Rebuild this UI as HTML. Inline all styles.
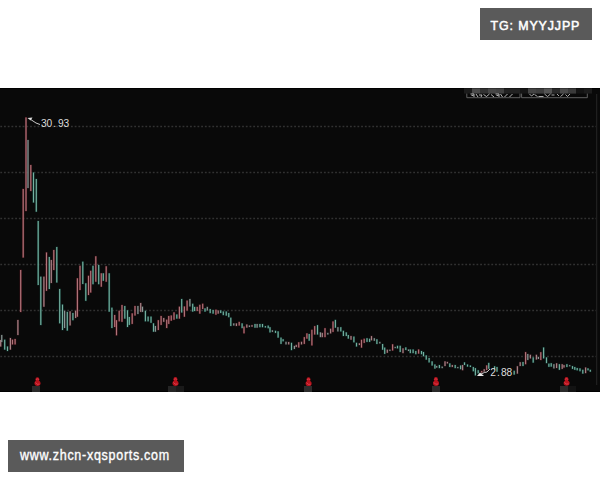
<!DOCTYPE html>
<html><head><meta charset="utf-8">
<style>
html,body{margin:0;padding:0;background:#fff;}
body{width:600px;height:480px;position:relative;overflow:hidden;font-family:"Liberation Sans",sans-serif;}
.tag{position:absolute;background:#5a5a5a;color:#fff;}
#tg{left:480px;top:8px;width:112px;height:32px;}
#tg span{position:absolute;left:10.5px;top:11px;font-size:12.4px;line-height:14px;white-space:nowrap;letter-spacing:0.9px;-webkit-text-stroke:0.5px #fff;}
#url{left:8px;top:440px;width:176px;height:32px;}
#url span{position:absolute;left:12px;top:6.6px;font-size:13.9px;line-height:16px;white-space:nowrap;letter-spacing:0.8px;-webkit-text-stroke:0.35px #fff;transform-origin:0 0;transform:scaleX(0.9);}
#chart{position:absolute;left:0;top:88px;width:600px;height:304px;background:#090909;}
</style></head><body>
<div class="tag" id="tg"><span>TG: MYYJJPP</span></div>
<svg id="chart" width="600" height="304" viewBox="0 0 600 304">
<rect x="0" y="0" width="600" height="1" fill="#000"/>
<rect x="0" y="303" width="600" height="1" fill="#000"/>
<line x1="0.3" y1="38.5" x2="596" y2="38.5" stroke="#323232" stroke-width="1.4" stroke-dasharray="1.8 1.92"/>
<line x1="0.3" y1="84.5" x2="596" y2="84.5" stroke="#323232" stroke-width="1.4" stroke-dasharray="1.8 1.92"/>
<line x1="0.3" y1="130.5" x2="596" y2="130.5" stroke="#323232" stroke-width="1.4" stroke-dasharray="1.8 1.92"/>
<line x1="0.3" y1="176.5" x2="596" y2="176.5" stroke="#323232" stroke-width="1.4" stroke-dasharray="1.8 1.92"/>
<line x1="0.3" y1="222.5" x2="596" y2="222.5" stroke="#323232" stroke-width="1.4" stroke-dasharray="1.8 1.92"/>
<line x1="0.3" y1="268.5" x2="596" y2="268.5" stroke="#323232" stroke-width="1.4" stroke-dasharray="1.8 1.92"/>
<g shape-rendering="auto">
<rect x="-0.40" y="251.60" width="2.2" height="7.30" fill="#5a2a30" opacity="0.6"/>
<rect x="0.65" y="246.60" width="2.2" height="7.80" fill="#343c3c" opacity="0.6"/>
<rect x="3.60" y="251.30" width="2.2" height="10.70" fill="#164e46" opacity="0.6"/>
<rect x="6.40" y="258.10" width="2.2" height="5.30" fill="#164e46" opacity="0.6"/>
<rect x="9.30" y="249.60" width="2.2" height="12.40" fill="#5a2a30" opacity="0.6"/>
<rect x="11.40" y="251.30" width="2.2" height="5.50" fill="#6a1c26" opacity="0.6"/>
<rect x="14.00" y="250.60" width="2.2" height="6.20" fill="#6a1c26" opacity="0.6"/>
<rect x="16.80" y="231.60" width="2.2" height="15.80" fill="#5a2a30" opacity="0.6"/>
<rect x="19.60" y="181.60" width="2.2" height="42.80" fill="#6a1c26" opacity="0.6"/>
<rect x="22.10" y="100.60" width="2.2" height="69.30" fill="#6a1c26" opacity="0.6"/>
<rect x="24.90" y="29.10" width="2.2" height="94.30" fill="#6a1c26" opacity="0.6"/>
<rect x="26.90" y="51.60" width="2.2" height="48.80" fill="#343c3c" opacity="0.6"/>
<rect x="29.70" y="76.60" width="2.2" height="26.80" fill="#6a1c26" opacity="0.6"/>
<rect x="32.40" y="84.10" width="2.2" height="30.80" fill="#164e46" opacity="0.6"/>
<rect x="35.20" y="90.60" width="2.2" height="33.50" fill="#164e46" opacity="0.6"/>
<rect x="37.10" y="132.60" width="2.2" height="64.80" fill="#164e46" opacity="0.6"/>
<rect x="39.70" y="188.30" width="2.2" height="49.10" fill="#164e46" opacity="0.6"/>
<rect x="42.80" y="188.30" width="2.2" height="30.80" fill="#5a2a30" opacity="0.6"/>
<rect x="45.40" y="164.10" width="2.2" height="39.10" fill="#6a1c26" opacity="0.6"/>
<rect x="48.20" y="168.60" width="2.2" height="32.80" fill="#164e46" opacity="0.6"/>
<rect x="50.20" y="171.60" width="2.2" height="23.80" fill="#5a2a30" opacity="0.6"/>
<rect x="52.70" y="161.60" width="2.2" height="20.80" fill="#6a1c26" opacity="0.6"/>
<rect x="55.70" y="158.60" width="2.2" height="36.30" fill="#164e46" opacity="0.6"/>
<rect x="58.60" y="200.60" width="2.2" height="35.10" fill="#164e46" opacity="0.6"/>
<rect x="61.40" y="216.20" width="2.2" height="26.20" fill="#164e46" opacity="0.6"/>
<rect x="63.50" y="222.40" width="2.2" height="18.00" fill="#343c3c" opacity="0.6"/>
<rect x="66.20" y="223.50" width="2.2" height="19.50" fill="#164e46" opacity="0.6"/>
<rect x="69.00" y="223.00" width="2.2" height="14.80" fill="#5a2a30" opacity="0.6"/>
<rect x="71.80" y="224.60" width="2.2" height="8.00" fill="#164e46" opacity="0.6"/>
<rect x="74.50" y="222.40" width="2.2" height="8.00" fill="#5a2a30" opacity="0.6"/>
<rect x="76.30" y="189.90" width="2.2" height="39.20" fill="#6a1c26" opacity="0.6"/>
<rect x="78.90" y="177.40" width="2.2" height="25.00" fill="#6a1c26" opacity="0.6"/>
<rect x="81.70" y="173.30" width="2.2" height="23.10" fill="#164e46" opacity="0.6"/>
<rect x="84.70" y="194.90" width="2.2" height="18.30" fill="#164e46" opacity="0.6"/>
<rect x="87.40" y="187.40" width="2.2" height="20.00" fill="#6a1c26" opacity="0.6"/>
<rect x="89.60" y="182.40" width="2.2" height="22.50" fill="#6a1c26" opacity="0.6"/>
<rect x="91.90" y="177.40" width="2.2" height="19.20" fill="#164e46" opacity="0.6"/>
<rect x="94.70" y="167.90" width="2.2" height="26.20" fill="#6a1c26" opacity="0.6"/>
<rect x="97.60" y="176.60" width="2.2" height="20.00" fill="#164e46" opacity="0.6"/>
<rect x="100.20" y="184.90" width="2.2" height="14.20" fill="#6a1c26" opacity="0.6"/>
<rect x="102.20" y="184.90" width="2.2" height="8.30" fill="#164e46" opacity="0.6"/>
<rect x="105.10" y="177.90" width="2.2" height="16.20" fill="#6a1c26" opacity="0.6"/>
<rect x="108.10" y="184.90" width="2.2" height="39.20" fill="#164e46" opacity="0.6"/>
<rect x="110.80" y="219.30" width="2.2" height="21.10" fill="#164e46" opacity="0.6"/>
<rect x="113.60" y="226.60" width="2.2" height="12.80" fill="#6a1c26" opacity="0.6"/>
<rect x="115.40" y="231.80" width="2.2" height="15.90" fill="#6a1c26" opacity="0.6"/>
<rect x="118.10" y="222.40" width="2.2" height="11.30" fill="#6a1c26" opacity="0.6"/>
<rect x="120.90" y="216.60" width="2.2" height="17.60" fill="#6a1c26" opacity="0.6"/>
<rect x="123.70" y="217.60" width="2.2" height="13.40" fill="#164e46" opacity="0.6"/>
<rect x="126.40" y="221.90" width="2.2" height="17.50" fill="#164e46" opacity="0.6"/>
<rect x="128.20" y="228.60" width="2.2" height="8.70" fill="#164e46" opacity="0.6"/>
<rect x="131.10" y="225.00" width="2.2" height="11.30" fill="#6a1c26" opacity="0.6"/>
<rect x="133.90" y="217.60" width="2.2" height="10.30" fill="#6a1c26" opacity="0.6"/>
<rect x="136.80" y="217.60" width="2.2" height="8.80" fill="#343c3c" opacity="0.6"/>
<rect x="139.60" y="214.60" width="2.2" height="9.70" fill="#5a2a30" opacity="0.6"/>
<rect x="141.40" y="218.30" width="2.2" height="6.00" fill="#343c3c" opacity="0.6"/>
<rect x="144.30" y="222.40" width="2.2" height="11.30" fill="#164e46" opacity="0.6"/>
<rect x="147.00" y="228.20" width="2.2" height="5.50" fill="#164e46" opacity="0.6"/>
<rect x="149.90" y="228.20" width="2.2" height="7.00" fill="#164e46" opacity="0.6"/>
<rect x="152.40" y="234.90" width="2.2" height="9.20" fill="#164e46" opacity="0.6"/>
<rect x="154.30" y="237.60" width="2.2" height="6.50" fill="#343c3c" opacity="0.6"/>
<rect x="157.20" y="231.80" width="2.2" height="10.60" fill="#6a1c26" opacity="0.6"/>
<rect x="160.00" y="227.60" width="2.2" height="9.70" fill="#6a1c26" opacity="0.6"/>
<rect x="162.65" y="229.60" width="2.2" height="4.60" fill="#5a2a30" opacity="0.6"/>
<rect x="165.60" y="231.30" width="2.2" height="9.10" fill="#6a1c26" opacity="0.6"/>
<rect x="167.65" y="227.60" width="2.2" height="8.70" fill="#6a1c26" opacity="0.6"/>
<rect x="170.15" y="227.10" width="2.2" height="6.00" fill="#6a1c26" opacity="0.6"/>
<rect x="172.90" y="224.00" width="2.2" height="8.10" fill="#6a1c26" opacity="0.6"/>
<rect x="175.70" y="226.10" width="2.2" height="4.90" fill="#164e46" opacity="0.6"/>
<rect x="178.30" y="218.30" width="2.2" height="12.70" fill="#6a1c26" opacity="0.6"/>
<rect x="180.60" y="210.60" width="2.2" height="14.30" fill="#164e46" opacity="0.6"/>
<rect x="183.30" y="218.10" width="2.2" height="11.00" fill="#6a1c26" opacity="0.6"/>
<rect x="186.00" y="212.20" width="2.2" height="10.70" fill="#6a1c26" opacity="0.6"/>
<rect x="188.80" y="210.60" width="2.2" height="8.20" fill="#343c3c" opacity="0.6"/>
<rect x="191.60" y="215.35" width="2.2" height="8.65" fill="#164e46" opacity="0.6"/>
<rect x="193.50" y="218.50" width="2.2" height="4.90" fill="#164e46" opacity="0.6"/>
<rect x="196.10" y="218.50" width="2.2" height="4.90" fill="#6a1c26" opacity="0.6"/>
<rect x="198.70" y="216.40" width="2.2" height="9.60" fill="#6a1c26" opacity="0.6"/>
<rect x="201.60" y="215.35" width="2.2" height="6.05" fill="#6a1c26" opacity="0.6"/>
<rect x="203.90" y="220.00" width="2.2" height="4.00" fill="#164e46" opacity="0.6"/>
<rect x="206.20" y="218.50" width="2.2" height="4.40" fill="#343c3c" opacity="0.6"/>
<rect x="209.10" y="220.60" width="2.2" height="4.90" fill="#164e46" opacity="0.6"/>
<rect x="212.00" y="221.60" width="2.2" height="4.40" fill="#164e46" opacity="0.6"/>
<rect x="214.80" y="221.30" width="2.2" height="5.80" fill="#6a1c26" opacity="0.6"/>
<rect x="217.10" y="222.10" width="2.2" height="3.90" fill="#5a2a30" opacity="0.6"/>
<rect x="219.60" y="222.00" width="2.2" height="3.40" fill="#164e46" opacity="0.6"/>
<rect x="222.20" y="223.10" width="2.2" height="4.40" fill="#164e46" opacity="0.6"/>
<rect x="225.15" y="223.10" width="2.2" height="4.90" fill="#164e46" opacity="0.6"/>
<rect x="227.65" y="224.60" width="2.2" height="5.00" fill="#164e46" opacity="0.6"/>
<rect x="229.70" y="229.30" width="2.2" height="9.10" fill="#164e46" opacity="0.6"/>
<rect x="232.65" y="235.00" width="2.2" height="2.90" fill="#343c3c" opacity="0.6"/>
<rect x="235.30" y="235.00" width="2.2" height="3.40" fill="#5a2a30" opacity="0.6"/>
<rect x="238.10" y="233.50" width="2.2" height="4.40" fill="#6a1c26" opacity="0.6"/>
<rect x="241.00" y="235.00" width="2.2" height="5.50" fill="#164e46" opacity="0.6"/>
<rect x="242.90" y="238.20" width="2.2" height="7.50" fill="#6a1c26" opacity="0.6"/>
<rect x="245.70" y="236.10" width="2.2" height="3.90" fill="#5a2a30" opacity="0.6"/>
<rect x="248.30" y="237.10" width="2.2" height="2.30" fill="#343c3c" opacity="0.6"/>
<rect x="250.90" y="236.70" width="2.2" height="2.40" fill="#5a2a30" opacity="0.6"/>
<rect x="253.90" y="235.60" width="2.2" height="4.50" fill="#164e46" opacity="0.6"/>
<rect x="256.00" y="235.60" width="2.2" height="4.50" fill="#343c3c" opacity="0.6"/>
<rect x="258.80" y="235.60" width="2.2" height="4.00" fill="#164e46" opacity="0.6"/>
<rect x="261.40" y="235.60" width="2.2" height="4.00" fill="#164e46" opacity="0.6"/>
<rect x="264.30" y="237.70" width="2.2" height="2.20" fill="#164e46" opacity="0.6"/>
<rect x="267.10" y="237.20" width="2.2" height="3.40" fill="#164e46" opacity="0.6"/>
<rect x="268.90" y="238.80" width="2.2" height="6.00" fill="#164e46" opacity="0.6"/>
<rect x="271.30" y="241.90" width="2.2" height="2.40" fill="#343c3c" opacity="0.6"/>
<rect x="274.40" y="242.40" width="2.2" height="2.90" fill="#164e46" opacity="0.6"/>
<rect x="277.00" y="243.00" width="2.2" height="7.00" fill="#164e46" opacity="0.6"/>
<rect x="279.90" y="249.20" width="2.2" height="7.10" fill="#164e46" opacity="0.6"/>
<rect x="282.00" y="250.80" width="2.2" height="2.85" fill="#164e46" opacity="0.6"/>
<rect x="284.90" y="253.40" width="2.2" height="3.40" fill="#343c3c" opacity="0.6"/>
<rect x="287.60" y="253.60" width="2.2" height="3.20" fill="#5a2a30" opacity="0.6"/>
<rect x="290.40" y="254.40" width="2.2" height="8.10" fill="#164e46" opacity="0.6"/>
<rect x="293.30" y="257.50" width="2.2" height="3.90" fill="#343c3c" opacity="0.6"/>
<rect x="295.15" y="256.50" width="2.2" height="2.90" fill="#5a2a30" opacity="0.6"/>
<rect x="297.65" y="253.90" width="2.2" height="6.00" fill="#6a1c26" opacity="0.6"/>
<rect x="300.40" y="253.40" width="2.2" height="3.40" fill="#5a2a30" opacity="0.6"/>
<rect x="303.20" y="248.70" width="2.2" height="7.60" fill="#6a1c26" opacity="0.6"/>
<rect x="305.80" y="245.00" width="2.2" height="6.00" fill="#6a1c26" opacity="0.6"/>
<rect x="308.10" y="245.60" width="2.2" height="7.50" fill="#164e46" opacity="0.6"/>
<rect x="310.80" y="241.40" width="2.2" height="16.40" fill="#6a1c26" opacity="0.6"/>
<rect x="313.60" y="237.70" width="2.2" height="9.20" fill="#6a1c26" opacity="0.6"/>
<rect x="316.40" y="236.70" width="2.2" height="10.20" fill="#164e46" opacity="0.6"/>
<rect x="319.30" y="244.00" width="2.2" height="5.50" fill="#343c3c" opacity="0.6"/>
<rect x="321.20" y="244.50" width="2.2" height="5.00" fill="#5a2a30" opacity="0.6"/>
<rect x="323.90" y="239.80" width="2.2" height="9.70" fill="#6a1c26" opacity="0.6"/>
<rect x="326.70" y="244.50" width="2.2" height="2.40" fill="#343c3c" opacity="0.6"/>
<rect x="329.50" y="240.35" width="2.2" height="5.45" fill="#5a2a30" opacity="0.6"/>
<rect x="331.90" y="233.10" width="2.2" height="11.20" fill="#6a1c26" opacity="0.6"/>
<rect x="334.30" y="231.50" width="2.2" height="8.60" fill="#164e46" opacity="0.6"/>
<rect x="336.80" y="238.80" width="2.2" height="5.00" fill="#343c3c" opacity="0.6"/>
<rect x="339.70" y="238.80" width="2.2" height="5.00" fill="#164e46" opacity="0.6"/>
<rect x="342.30" y="242.40" width="2.2" height="6.00" fill="#164e46" opacity="0.6"/>
<rect x="345.15" y="244.00" width="2.2" height="4.40" fill="#164e46" opacity="0.6"/>
<rect x="347.20" y="246.60" width="2.2" height="4.40" fill="#164e46" opacity="0.6"/>
<rect x="349.90" y="247.60" width="2.2" height="4.50" fill="#5a2a30" opacity="0.6"/>
<rect x="352.80" y="248.20" width="2.2" height="6.50" fill="#164e46" opacity="0.6"/>
<rect x="355.40" y="254.40" width="2.2" height="4.50" fill="#164e46" opacity="0.6"/>
<rect x="358.30" y="254.90" width="2.2" height="2.50" fill="#5a2a30" opacity="0.6"/>
<rect x="360.40" y="251.40" width="2.2" height="8.60" fill="#6a1c26" opacity="0.6"/>
<rect x="363.10" y="250.35" width="2.2" height="4.95" fill="#6a1c26" opacity="0.6"/>
<rect x="365.90" y="249.80" width="2.2" height="4.50" fill="#164e46" opacity="0.6"/>
<rect x="368.50" y="250.35" width="2.2" height="3.95" fill="#164e46" opacity="0.6"/>
<rect x="370.40" y="247.70" width="2.2" height="5.00" fill="#5a2a30" opacity="0.6"/>
<rect x="373.20" y="249.80" width="2.2" height="3.40" fill="#343c3c" opacity="0.6"/>
<rect x="375.80" y="250.90" width="2.2" height="5.50" fill="#164e46" opacity="0.6"/>
<rect x="378.70" y="253.50" width="2.2" height="2.30" fill="#343c3c" opacity="0.6"/>
<rect x="381.50" y="255.60" width="2.2" height="6.50" fill="#164e46" opacity="0.6"/>
<rect x="383.60" y="259.20" width="2.2" height="7.10" fill="#164e46" opacity="0.6"/>
<rect x="386.20" y="261.30" width="2.2" height="3.90" fill="#5a2a30" opacity="0.6"/>
<rect x="388.80" y="261.30" width="2.2" height="2.00" fill="#343c3c" opacity="0.6"/>
<rect x="391.50" y="255.90" width="2.2" height="7.00" fill="#6a1c26" opacity="0.6"/>
<rect x="394.10" y="258.50" width="2.2" height="2.00" fill="#343c3c" opacity="0.6"/>
<rect x="396.40" y="257.40" width="2.2" height="3.40" fill="#164e46" opacity="0.6"/>
<rect x="399.10" y="257.40" width="2.2" height="7.00" fill="#164e46" opacity="0.6"/>
<rect x="401.90" y="260.00" width="2.2" height="5.50" fill="#5a2a30" opacity="0.6"/>
<rect x="404.70" y="259.00" width="2.2" height="3.40" fill="#164e46" opacity="0.6"/>
<rect x="407.40" y="261.10" width="2.2" height="2.30" fill="#343c3c" opacity="0.6"/>
<rect x="409.20" y="261.10" width="2.2" height="4.40" fill="#164e46" opacity="0.6"/>
<rect x="412.00" y="261.10" width="2.2" height="4.40" fill="#164e46" opacity="0.6"/>
<rect x="414.70" y="262.60" width="2.2" height="4.00" fill="#164e46" opacity="0.6"/>
<rect x="417.50" y="261.10" width="2.2" height="4.90" fill="#6a1c26" opacity="0.6"/>
<rect x="420.40" y="262.60" width="2.2" height="4.00" fill="#164e46" opacity="0.6"/>
<rect x="422.40" y="263.60" width="2.2" height="5.05" fill="#164e46" opacity="0.6"/>
<rect x="425.15" y="267.00" width="2.2" height="5.00" fill="#164e46" opacity="0.6"/>
<rect x="428.00" y="269.60" width="2.2" height="5.20" fill="#164e46" opacity="0.6"/>
<rect x="431.00" y="273.00" width="2.2" height="4.90" fill="#164e46" opacity="0.6"/>
<rect x="433.80" y="276.10" width="2.2" height="4.90" fill="#164e46" opacity="0.6"/>
<rect x="435.60" y="277.60" width="2.2" height="2.40" fill="#343c3c" opacity="0.6"/>
<rect x="438.30" y="276.60" width="2.2" height="3.90" fill="#164e46" opacity="0.6"/>
<rect x="441.10" y="278.20" width="2.2" height="2.30" fill="#343c3c" opacity="0.6"/>
<rect x="443.90" y="273.00" width="2.2" height="5.40" fill="#5a2a30" opacity="0.6"/>
<rect x="446.30" y="273.50" width="2.2" height="2.30" fill="#5a2a30" opacity="0.6"/>
<rect x="448.70" y="275.00" width="2.2" height="4.40" fill="#164e46" opacity="0.6"/>
<rect x="451.20" y="276.60" width="2.2" height="2.80" fill="#5a2a30" opacity="0.6"/>
<rect x="454.10" y="276.60" width="2.2" height="3.90" fill="#164e46" opacity="0.6"/>
<rect x="456.70" y="278.60" width="2.2" height="2.00" fill="#343c3c" opacity="0.6"/>
<rect x="459.50" y="277.10" width="2.2" height="4.50" fill="#164e46" opacity="0.6"/>
<rect x="461.50" y="276.60" width="2.2" height="6.00" fill="#5a2a30" opacity="0.6"/>
<rect x="463.40" y="274.00" width="2.2" height="3.40" fill="#164e46" opacity="0.6"/>
<rect x="466.40" y="276.10" width="2.2" height="2.90" fill="#164e46" opacity="0.6"/>
<rect x="469.30" y="277.10" width="2.2" height="2.30" fill="#164e46" opacity="0.6"/>
<rect x="472.20" y="278.60" width="2.2" height="5.05" fill="#164e46" opacity="0.6"/>
<rect x="474.30" y="279.70" width="2.2" height="8.10" fill="#164e46" opacity="0.6"/>
<rect x="477.10" y="281.80" width="2.2" height="3.90" fill="#164e46" opacity="0.6"/>
<rect x="480.60" y="282.60" width="2.2" height="2.30" fill="#6a1c26" opacity="0.6"/>
<rect x="483.10" y="280.80" width="2.2" height="3.30" fill="#5a2a30" opacity="0.6"/>
<rect x="485.60" y="277.00" width="2.2" height="5.40" fill="#6a1c26" opacity="0.6"/>
<rect x="487.65" y="274.50" width="2.2" height="6.65" fill="#164e46" opacity="0.6"/>
<rect x="493.50" y="277.85" width="2.2" height="3.75" fill="#164e46" opacity="0.6"/>
<rect x="495.90" y="278.60" width="2.2" height="5.50" fill="#164e46" opacity="0.6"/>
<rect x="513.10" y="282.40" width="2.2" height="4.60" fill="#164e46" opacity="0.6"/>
<rect x="516.30" y="277.85" width="2.2" height="8.15" fill="#5a2a30" opacity="0.6"/>
<rect x="519.10" y="273.80" width="2.2" height="4.60" fill="#5a2a30" opacity="0.6"/>
<rect x="521.90" y="273.60" width="2.2" height="4.80" fill="#164e46" opacity="0.6"/>
<rect x="524.50" y="263.70" width="2.2" height="12.90" fill="#6a1c26" opacity="0.6"/>
<rect x="526.70" y="265.60" width="2.2" height="6.80" fill="#343c3c" opacity="0.6"/>
<rect x="529.30" y="266.40" width="2.2" height="4.40" fill="#5a2a30" opacity="0.6"/>
<rect x="532.10" y="269.00" width="2.2" height="6.00" fill="#164e46" opacity="0.6"/>
<rect x="535.30" y="266.40" width="2.2" height="5.50" fill="#5a2a30" opacity="0.6"/>
<rect x="537.30" y="268.50" width="2.2" height="2.90" fill="#343c3c" opacity="0.6"/>
<rect x="539.70" y="263.80" width="2.2" height="8.60" fill="#6a1c26" opacity="0.6"/>
<rect x="542.50" y="259.10" width="2.2" height="11.70" fill="#164e46" opacity="0.6"/>
<rect x="545.40" y="269.00" width="2.2" height="6.50" fill="#164e46" opacity="0.6"/>
<rect x="547.80" y="275.20" width="2.2" height="4.00" fill="#164e46" opacity="0.6"/>
<rect x="550.10" y="274.80" width="2.2" height="4.20" fill="#164e46" opacity="0.6"/>
<rect x="552.80" y="275.80" width="2.2" height="5.00" fill="#343c3c" opacity="0.6"/>
<rect x="555.50" y="274.90" width="2.2" height="5.50" fill="#5a2a30" opacity="0.6"/>
<rect x="558.30" y="275.80" width="2.2" height="6.40" fill="#164e46" opacity="0.6"/>
<rect x="561.10" y="275.80" width="2.2" height="5.50" fill="#5a2a30" opacity="0.6"/>
<rect x="562.90" y="276.70" width="2.2" height="3.20" fill="#5a2a30" opacity="0.6"/>
<rect x="565.80" y="275.80" width="2.2" height="3.60" fill="#164e46" opacity="0.6"/>
<rect x="568.60" y="276.70" width="2.2" height="2.00" fill="#343c3c" opacity="0.6"/>
<rect x="571.40" y="277.70" width="2.2" height="3.60" fill="#164e46" opacity="0.6"/>
<rect x="573.70" y="278.60" width="2.2" height="3.60" fill="#164e46" opacity="0.6"/>
<rect x="576.10" y="279.60" width="2.2" height="3.10" fill="#164e46" opacity="0.6"/>
<rect x="578.90" y="280.00" width="2.2" height="3.60" fill="#164e46" opacity="0.6"/>
<rect x="581.70" y="281.40" width="2.2" height="4.60" fill="#164e46" opacity="0.6"/>
<rect x="584.50" y="279.10" width="2.2" height="6.40" fill="#5a2a30" opacity="0.6"/>
<rect x="586.90" y="280.00" width="2.2" height="2.70" fill="#164e46" opacity="0.6"/>
<rect x="589.20" y="281.40" width="2.2" height="2.70" fill="#164e46" opacity="0.6"/>
<rect x="0.12" y="252.00" width="1.15" height="6.50" fill="#a88488"/>
<rect x="1.18" y="247.00" width="1.15" height="7.00" fill="#8c9896"/>
<rect x="4.12" y="251.70" width="1.15" height="9.90" fill="#74b0a0"/>
<rect x="6.92" y="258.50" width="1.15" height="4.50" fill="#74b0a0"/>
<rect x="9.83" y="250.00" width="1.15" height="11.60" fill="#a88488"/>
<rect x="11.93" y="251.70" width="1.15" height="4.70" fill="#b0747a"/>
<rect x="14.53" y="251.00" width="1.15" height="5.40" fill="#b0747a"/>
<rect x="17.32" y="232.00" width="1.15" height="15.00" fill="#a88488"/>
<rect x="20.12" y="182.00" width="1.15" height="42.00" fill="#b0747a"/>
<rect x="22.62" y="101.00" width="1.15" height="68.50" fill="#b0747a"/>
<rect x="25.43" y="29.50" width="1.15" height="93.50" fill="#b0747a"/>
<rect x="27.43" y="52.00" width="1.15" height="48.00" fill="#8c9896"/>
<rect x="30.23" y="77.00" width="1.15" height="26.00" fill="#b0747a"/>
<rect x="32.92" y="84.50" width="1.15" height="30.00" fill="#74b0a0"/>
<rect x="35.72" y="91.00" width="1.15" height="32.70" fill="#74b0a0"/>
<rect x="37.62" y="133.00" width="1.15" height="64.00" fill="#74b0a0"/>
<rect x="40.22" y="188.70" width="1.15" height="48.30" fill="#74b0a0"/>
<rect x="43.32" y="188.70" width="1.15" height="30.00" fill="#a88488"/>
<rect x="45.92" y="164.50" width="1.15" height="38.30" fill="#b0747a"/>
<rect x="48.72" y="169.00" width="1.15" height="32.00" fill="#74b0a0"/>
<rect x="50.72" y="172.00" width="1.15" height="23.00" fill="#a88488"/>
<rect x="53.22" y="162.00" width="1.15" height="20.00" fill="#b0747a"/>
<rect x="56.22" y="159.00" width="1.15" height="35.50" fill="#74b0a0"/>
<rect x="59.12" y="201.00" width="1.15" height="34.30" fill="#74b0a0"/>
<rect x="61.92" y="216.60" width="1.15" height="25.40" fill="#74b0a0"/>
<rect x="64.02" y="222.80" width="1.15" height="17.20" fill="#8c9896"/>
<rect x="66.72" y="223.90" width="1.15" height="18.70" fill="#74b0a0"/>
<rect x="69.52" y="223.40" width="1.15" height="14.00" fill="#a88488"/>
<rect x="72.33" y="225.00" width="1.15" height="7.20" fill="#74b0a0"/>
<rect x="75.02" y="222.80" width="1.15" height="7.20" fill="#a88488"/>
<rect x="76.83" y="190.30" width="1.15" height="38.40" fill="#b0747a"/>
<rect x="79.42" y="177.80" width="1.15" height="24.20" fill="#b0747a"/>
<rect x="82.22" y="173.70" width="1.15" height="22.30" fill="#74b0a0"/>
<rect x="85.22" y="195.30" width="1.15" height="17.50" fill="#74b0a0"/>
<rect x="87.92" y="187.80" width="1.15" height="19.20" fill="#b0747a"/>
<rect x="90.12" y="182.80" width="1.15" height="21.70" fill="#b0747a"/>
<rect x="92.42" y="177.80" width="1.15" height="18.40" fill="#74b0a0"/>
<rect x="95.22" y="168.30" width="1.15" height="25.40" fill="#b0747a"/>
<rect x="98.12" y="177.00" width="1.15" height="19.20" fill="#74b0a0"/>
<rect x="100.72" y="185.30" width="1.15" height="13.40" fill="#b0747a"/>
<rect x="102.72" y="185.30" width="1.15" height="7.50" fill="#74b0a0"/>
<rect x="105.62" y="178.30" width="1.15" height="15.40" fill="#b0747a"/>
<rect x="108.62" y="185.30" width="1.15" height="38.40" fill="#74b0a0"/>
<rect x="111.33" y="219.70" width="1.15" height="20.30" fill="#74b0a0"/>
<rect x="114.12" y="227.00" width="1.15" height="12.00" fill="#b0747a"/>
<rect x="115.92" y="232.20" width="1.15" height="15.10" fill="#b0747a"/>
<rect x="118.62" y="222.80" width="1.15" height="10.50" fill="#b0747a"/>
<rect x="121.42" y="217.00" width="1.15" height="16.80" fill="#b0747a"/>
<rect x="124.22" y="218.00" width="1.15" height="12.60" fill="#74b0a0"/>
<rect x="126.92" y="222.30" width="1.15" height="16.70" fill="#74b0a0"/>
<rect x="128.73" y="229.00" width="1.15" height="7.90" fill="#74b0a0"/>
<rect x="131.62" y="225.40" width="1.15" height="10.50" fill="#b0747a"/>
<rect x="134.43" y="218.00" width="1.15" height="9.50" fill="#b0747a"/>
<rect x="137.33" y="218.00" width="1.15" height="8.00" fill="#8c9896"/>
<rect x="140.12" y="215.00" width="1.15" height="8.90" fill="#a88488"/>
<rect x="141.93" y="218.70" width="1.15" height="5.20" fill="#8c9896"/>
<rect x="144.83" y="222.80" width="1.15" height="10.50" fill="#74b0a0"/>
<rect x="147.53" y="228.60" width="1.15" height="4.70" fill="#74b0a0"/>
<rect x="150.43" y="228.60" width="1.15" height="6.20" fill="#74b0a0"/>
<rect x="152.93" y="235.30" width="1.15" height="8.40" fill="#74b0a0"/>
<rect x="154.83" y="238.00" width="1.15" height="5.70" fill="#8c9896"/>
<rect x="157.73" y="232.20" width="1.15" height="9.80" fill="#b0747a"/>
<rect x="160.53" y="228.00" width="1.15" height="8.90" fill="#b0747a"/>
<rect x="163.18" y="230.00" width="1.15" height="3.80" fill="#a88488"/>
<rect x="166.12" y="231.70" width="1.15" height="8.30" fill="#b0747a"/>
<rect x="168.18" y="228.00" width="1.15" height="7.90" fill="#b0747a"/>
<rect x="170.68" y="227.50" width="1.15" height="5.20" fill="#b0747a"/>
<rect x="173.43" y="224.40" width="1.15" height="7.30" fill="#b0747a"/>
<rect x="176.23" y="226.50" width="1.15" height="4.10" fill="#74b0a0"/>
<rect x="178.83" y="218.70" width="1.15" height="11.90" fill="#b0747a"/>
<rect x="181.12" y="211.00" width="1.15" height="13.50" fill="#74b0a0"/>
<rect x="183.83" y="218.50" width="1.15" height="10.20" fill="#b0747a"/>
<rect x="186.53" y="212.60" width="1.15" height="9.90" fill="#b0747a"/>
<rect x="189.33" y="211.00" width="1.15" height="7.40" fill="#8c9896"/>
<rect x="192.12" y="215.75" width="1.15" height="7.85" fill="#74b0a0"/>
<rect x="194.03" y="218.90" width="1.15" height="4.10" fill="#74b0a0"/>
<rect x="196.62" y="218.90" width="1.15" height="4.10" fill="#b0747a"/>
<rect x="199.23" y="216.80" width="1.15" height="8.80" fill="#b0747a"/>
<rect x="202.12" y="215.75" width="1.15" height="5.25" fill="#b0747a"/>
<rect x="204.43" y="220.40" width="1.15" height="3.20" fill="#74b0a0"/>
<rect x="206.73" y="218.90" width="1.15" height="3.60" fill="#8c9896"/>
<rect x="209.62" y="221.00" width="1.15" height="4.10" fill="#74b0a0"/>
<rect x="212.53" y="222.00" width="1.15" height="3.60" fill="#74b0a0"/>
<rect x="215.33" y="221.70" width="1.15" height="5.00" fill="#b0747a"/>
<rect x="217.62" y="222.50" width="1.15" height="3.10" fill="#a88488"/>
<rect x="220.12" y="222.40" width="1.15" height="2.60" fill="#74b0a0"/>
<rect x="222.73" y="223.50" width="1.15" height="3.60" fill="#74b0a0"/>
<rect x="225.68" y="223.50" width="1.15" height="4.10" fill="#74b0a0"/>
<rect x="228.18" y="225.00" width="1.15" height="4.20" fill="#74b0a0"/>
<rect x="230.23" y="229.70" width="1.15" height="8.30" fill="#74b0a0"/>
<rect x="233.18" y="235.40" width="1.15" height="2.10" fill="#8c9896"/>
<rect x="235.83" y="235.40" width="1.15" height="2.60" fill="#a88488"/>
<rect x="238.62" y="233.90" width="1.15" height="3.60" fill="#b0747a"/>
<rect x="241.53" y="235.40" width="1.15" height="4.70" fill="#74b0a0"/>
<rect x="243.43" y="238.60" width="1.15" height="6.70" fill="#b0747a"/>
<rect x="246.23" y="236.50" width="1.15" height="3.10" fill="#a88488"/>
<rect x="248.83" y="237.50" width="1.15" height="1.50" fill="#8c9896"/>
<rect x="251.43" y="237.10" width="1.15" height="1.60" fill="#a88488"/>
<rect x="254.43" y="236.00" width="1.15" height="3.70" fill="#74b0a0"/>
<rect x="256.53" y="236.00" width="1.15" height="3.70" fill="#8c9896"/>
<rect x="259.32" y="236.00" width="1.15" height="3.20" fill="#74b0a0"/>
<rect x="261.93" y="236.00" width="1.15" height="3.20" fill="#74b0a0"/>
<rect x="264.82" y="238.10" width="1.15" height="1.40" fill="#74b0a0"/>
<rect x="267.62" y="237.60" width="1.15" height="2.60" fill="#74b0a0"/>
<rect x="269.43" y="239.20" width="1.15" height="5.20" fill="#74b0a0"/>
<rect x="271.82" y="242.30" width="1.15" height="1.60" fill="#8c9896"/>
<rect x="274.93" y="242.80" width="1.15" height="2.10" fill="#74b0a0"/>
<rect x="277.53" y="243.40" width="1.15" height="6.20" fill="#74b0a0"/>
<rect x="280.43" y="249.60" width="1.15" height="6.30" fill="#74b0a0"/>
<rect x="282.53" y="251.20" width="1.15" height="2.05" fill="#74b0a0"/>
<rect x="285.43" y="253.80" width="1.15" height="2.60" fill="#8c9896"/>
<rect x="288.12" y="254.00" width="1.15" height="2.40" fill="#a88488"/>
<rect x="290.93" y="254.80" width="1.15" height="7.30" fill="#74b0a0"/>
<rect x="293.82" y="257.90" width="1.15" height="3.10" fill="#8c9896"/>
<rect x="295.68" y="256.90" width="1.15" height="2.10" fill="#a88488"/>
<rect x="298.18" y="254.30" width="1.15" height="5.20" fill="#b0747a"/>
<rect x="300.93" y="253.80" width="1.15" height="2.60" fill="#a88488"/>
<rect x="303.73" y="249.10" width="1.15" height="6.80" fill="#b0747a"/>
<rect x="306.32" y="245.40" width="1.15" height="5.20" fill="#b0747a"/>
<rect x="308.62" y="246.00" width="1.15" height="6.70" fill="#74b0a0"/>
<rect x="311.32" y="241.80" width="1.15" height="15.60" fill="#b0747a"/>
<rect x="314.12" y="238.10" width="1.15" height="8.40" fill="#b0747a"/>
<rect x="316.93" y="237.10" width="1.15" height="9.40" fill="#74b0a0"/>
<rect x="319.82" y="244.40" width="1.15" height="4.70" fill="#8c9896"/>
<rect x="321.73" y="244.90" width="1.15" height="4.20" fill="#a88488"/>
<rect x="324.43" y="240.20" width="1.15" height="8.90" fill="#b0747a"/>
<rect x="327.23" y="244.90" width="1.15" height="1.60" fill="#8c9896"/>
<rect x="330.03" y="240.75" width="1.15" height="4.65" fill="#a88488"/>
<rect x="332.43" y="233.50" width="1.15" height="10.40" fill="#b0747a"/>
<rect x="334.82" y="231.90" width="1.15" height="7.80" fill="#74b0a0"/>
<rect x="337.32" y="239.20" width="1.15" height="4.20" fill="#8c9896"/>
<rect x="340.23" y="239.20" width="1.15" height="4.20" fill="#74b0a0"/>
<rect x="342.82" y="242.80" width="1.15" height="5.20" fill="#74b0a0"/>
<rect x="345.68" y="244.40" width="1.15" height="3.60" fill="#74b0a0"/>
<rect x="347.73" y="247.00" width="1.15" height="3.60" fill="#74b0a0"/>
<rect x="350.43" y="248.00" width="1.15" height="3.70" fill="#a88488"/>
<rect x="353.32" y="248.60" width="1.15" height="5.70" fill="#74b0a0"/>
<rect x="355.93" y="254.80" width="1.15" height="3.70" fill="#74b0a0"/>
<rect x="358.82" y="255.30" width="1.15" height="1.70" fill="#a88488"/>
<rect x="360.93" y="251.80" width="1.15" height="7.80" fill="#b0747a"/>
<rect x="363.62" y="250.75" width="1.15" height="4.15" fill="#b0747a"/>
<rect x="366.43" y="250.20" width="1.15" height="3.70" fill="#74b0a0"/>
<rect x="369.03" y="250.75" width="1.15" height="3.15" fill="#74b0a0"/>
<rect x="370.93" y="248.10" width="1.15" height="4.20" fill="#a88488"/>
<rect x="373.73" y="250.20" width="1.15" height="2.60" fill="#8c9896"/>
<rect x="376.32" y="251.30" width="1.15" height="4.70" fill="#74b0a0"/>
<rect x="379.23" y="253.90" width="1.15" height="1.50" fill="#8c9896"/>
<rect x="382.03" y="256.00" width="1.15" height="5.70" fill="#74b0a0"/>
<rect x="384.12" y="259.60" width="1.15" height="6.30" fill="#74b0a0"/>
<rect x="386.73" y="261.70" width="1.15" height="3.10" fill="#a88488"/>
<rect x="389.32" y="261.70" width="1.15" height="1.20" fill="#8c9896"/>
<rect x="392.03" y="256.30" width="1.15" height="6.20" fill="#b0747a"/>
<rect x="394.62" y="258.90" width="1.15" height="1.20" fill="#8c9896"/>
<rect x="396.93" y="257.80" width="1.15" height="2.60" fill="#74b0a0"/>
<rect x="399.62" y="257.80" width="1.15" height="6.20" fill="#74b0a0"/>
<rect x="402.43" y="260.40" width="1.15" height="4.70" fill="#a88488"/>
<rect x="405.23" y="259.40" width="1.15" height="2.60" fill="#74b0a0"/>
<rect x="407.93" y="261.50" width="1.15" height="1.50" fill="#8c9896"/>
<rect x="409.73" y="261.50" width="1.15" height="3.60" fill="#74b0a0"/>
<rect x="412.53" y="261.50" width="1.15" height="3.60" fill="#74b0a0"/>
<rect x="415.23" y="263.00" width="1.15" height="3.20" fill="#74b0a0"/>
<rect x="418.03" y="261.50" width="1.15" height="4.10" fill="#b0747a"/>
<rect x="420.93" y="263.00" width="1.15" height="3.20" fill="#74b0a0"/>
<rect x="422.93" y="264.00" width="1.15" height="4.25" fill="#74b0a0"/>
<rect x="425.68" y="267.40" width="1.15" height="4.20" fill="#74b0a0"/>
<rect x="428.53" y="270.00" width="1.15" height="4.40" fill="#74b0a0"/>
<rect x="431.53" y="273.40" width="1.15" height="4.10" fill="#74b0a0"/>
<rect x="434.32" y="276.50" width="1.15" height="4.10" fill="#74b0a0"/>
<rect x="436.12" y="278.00" width="1.15" height="1.60" fill="#8c9896"/>
<rect x="438.82" y="277.00" width="1.15" height="3.10" fill="#74b0a0"/>
<rect x="441.62" y="278.60" width="1.15" height="1.50" fill="#8c9896"/>
<rect x="444.43" y="273.40" width="1.15" height="4.60" fill="#a88488"/>
<rect x="446.82" y="273.90" width="1.15" height="1.50" fill="#a88488"/>
<rect x="449.23" y="275.40" width="1.15" height="3.60" fill="#74b0a0"/>
<rect x="451.73" y="277.00" width="1.15" height="2.00" fill="#a88488"/>
<rect x="454.62" y="277.00" width="1.15" height="3.10" fill="#74b0a0"/>
<rect x="457.23" y="279.00" width="1.15" height="1.20" fill="#8c9896"/>
<rect x="460.03" y="277.50" width="1.15" height="3.70" fill="#74b0a0"/>
<rect x="462.03" y="277.00" width="1.15" height="5.20" fill="#a88488"/>
<rect x="463.93" y="274.40" width="1.15" height="2.60" fill="#74b0a0"/>
<rect x="466.93" y="276.50" width="1.15" height="2.10" fill="#74b0a0"/>
<rect x="469.82" y="277.50" width="1.15" height="1.50" fill="#74b0a0"/>
<rect x="472.73" y="279.00" width="1.15" height="4.25" fill="#74b0a0"/>
<rect x="474.82" y="280.10" width="1.15" height="7.30" fill="#74b0a0"/>
<rect x="477.62" y="282.20" width="1.15" height="3.10" fill="#74b0a0"/>
<rect x="481.12" y="283.00" width="1.15" height="1.50" fill="#b0747a"/>
<rect x="483.62" y="281.20" width="1.15" height="2.50" fill="#a88488"/>
<rect x="486.12" y="277.40" width="1.15" height="4.60" fill="#b0747a"/>
<rect x="488.18" y="274.90" width="1.15" height="5.85" fill="#74b0a0"/>
<rect x="494.03" y="278.25" width="1.15" height="2.95" fill="#74b0a0"/>
<rect x="496.43" y="279.00" width="1.15" height="4.70" fill="#74b0a0"/>
<rect x="513.62" y="282.80" width="1.15" height="3.80" fill="#74b0a0"/>
<rect x="516.82" y="278.25" width="1.15" height="7.35" fill="#a88488"/>
<rect x="519.62" y="274.20" width="1.15" height="3.80" fill="#a88488"/>
<rect x="522.42" y="274.00" width="1.15" height="4.00" fill="#74b0a0"/>
<rect x="525.02" y="264.10" width="1.15" height="12.10" fill="#b0747a"/>
<rect x="527.22" y="266.00" width="1.15" height="6.00" fill="#8c9896"/>
<rect x="529.82" y="266.80" width="1.15" height="3.60" fill="#a88488"/>
<rect x="532.62" y="269.40" width="1.15" height="5.20" fill="#74b0a0"/>
<rect x="535.82" y="266.80" width="1.15" height="4.70" fill="#a88488"/>
<rect x="537.82" y="268.90" width="1.15" height="2.10" fill="#8c9896"/>
<rect x="540.22" y="264.20" width="1.15" height="7.80" fill="#b0747a"/>
<rect x="543.02" y="259.50" width="1.15" height="10.90" fill="#74b0a0"/>
<rect x="545.92" y="269.40" width="1.15" height="5.70" fill="#74b0a0"/>
<rect x="548.32" y="275.60" width="1.15" height="3.20" fill="#74b0a0"/>
<rect x="550.62" y="275.20" width="1.15" height="3.40" fill="#74b0a0"/>
<rect x="553.32" y="276.20" width="1.15" height="4.20" fill="#8c9896"/>
<rect x="556.02" y="275.30" width="1.15" height="4.70" fill="#a88488"/>
<rect x="558.82" y="276.20" width="1.15" height="5.60" fill="#74b0a0"/>
<rect x="561.62" y="276.20" width="1.15" height="4.70" fill="#a88488"/>
<rect x="563.42" y="277.10" width="1.15" height="2.40" fill="#a88488"/>
<rect x="566.32" y="276.20" width="1.15" height="2.80" fill="#74b0a0"/>
<rect x="569.12" y="277.10" width="1.15" height="1.20" fill="#8c9896"/>
<rect x="571.92" y="278.10" width="1.15" height="2.80" fill="#74b0a0"/>
<rect x="574.22" y="279.00" width="1.15" height="2.80" fill="#74b0a0"/>
<rect x="576.62" y="280.00" width="1.15" height="2.30" fill="#74b0a0"/>
<rect x="579.42" y="280.40" width="1.15" height="2.80" fill="#74b0a0"/>
<rect x="582.22" y="281.80" width="1.15" height="3.80" fill="#74b0a0"/>
<rect x="585.02" y="279.50" width="1.15" height="5.60" fill="#a88488"/>
<rect x="587.42" y="280.40" width="1.15" height="1.90" fill="#74b0a0"/>
<rect x="589.72" y="281.80" width="1.15" height="1.90" fill="#74b0a0"/>
</g>
<!-- top right buttons -->
<g>
<rect x="464" y="0.3" width="8" height="5.3" fill="#1c1c1c"/>
<rect x="472" y="0.3" width="8" height="5.3" fill="#4a4a4a"/>
<rect x="480" y="0.3" width="8" height="5.3" fill="#333"/>
<rect x="488" y="0.3" width="8" height="5.3" fill="#474747"/>
<rect x="496" y="0.3" width="8" height="5.3" fill="#424242"/>
<rect x="504" y="0.3" width="8" height="5.3" fill="#222"/>
<rect x="512" y="0.3" width="8" height="5.3" fill="#222"/>
<rect x="520" y="0.3" width="8" height="5.3" fill="#161616"/>
<rect x="528" y="0.3" width="8" height="5.3" fill="#444"/>
<rect x="536" y="0.3" width="8" height="5.3" fill="#3e3e3e"/>
<rect x="544" y="0.3" width="8" height="5.3" fill="#555"/>
<rect x="552" y="0.3" width="8" height="5.3" fill="#2a2a2a"/>
<rect x="560" y="0.3" width="8" height="5.3" fill="#4a4a4a"/>
<rect x="568" y="0.3" width="8" height="5.3" fill="#3a3a3a"/>
<rect x="576" y="0.3" width="8" height="5.3" fill="#141414"/>
<rect x="584" y="0.3" width="8" height="5.3" fill="#1c1c1c"/>
<path d="M466.8 5.6 V9.7 H520 V5.6 M521.6 5.6 V9.7 H587.3 V5.6" fill="none" stroke="#6a6a6a" stroke-width="0.9"/>
<path d="M470.5 6 h3.5 v3 M471.5 7.5 h2 M476 6 l2 3 M479 7 h3 l-1 2 M483.5 6.5 l3 2 l3-2.5 M491 6.5 l3 2.5 M495.5 6 h3.5 v3 M496.5 7.5 h2 M500.5 6 l2 3 M504.5 9 l3-3 M509.5 9 l3-3" fill="none" stroke="#c8c8c8" stroke-width="0.9"/>
<path d="M529.5 6 l2 2 l2.5-2 M534.5 6.5 l3 2 M538.5 8.5 h5 M544.5 6 l3 2.5 l3-2.5 M551.5 7 h3 M557 6 l2 2 M560.5 8.5 l3-2.5 M565.5 6.5 l2 2 l2.5-2.5" fill="none" stroke="#bdbdbd" stroke-width="0.9"/>
<rect x="596.2" y="6" width="1" height="291" fill="#262626"/>
</g>
<!-- labels -->
<g fill="#e0e0e0" stroke="none">
<path d="M27.5 30 L32.5 29.6 L30.6 32.6 Z"/>
</g>
<path d="M30 31 Q33 33 36 35 L40 36.5" fill="none" stroke="#ddd" stroke-width="0.9"/>
<text x="41.0 46.4 53.2 58.0 63.4" y="38.7" fill="#dedede" font-family="Liberation Sans" font-size="10.2">30.93</text>
<g fill="#e8e8e8">
<path d="M477 288 L484 288 L480 284.5 Z"/>
</g>
<path d="M481 286 Q485 284 487 284 L490 281" fill="none" stroke="#ddd" stroke-width="0.9"/>
<text x="490.3 496.9 501.1 506.5" y="287.6" fill="#dedede" font-family="Liberation Sans" font-size="10.2">2.88</text>
<!-- markers -->
<g>
<rect x="32" y="298" width="8" height="6" fill="#2a2a2a"/>
<rect x="168" y="298" width="8" height="6" fill="#242424"/>
<rect x="176" y="298" width="8" height="6" fill="#1a1a1a"/>
<rect x="304" y="298" width="8" height="6" fill="#2c2c2c"/>
<rect x="432" y="298" width="8" height="6" fill="#2a2a2a"/>
<rect x="560" y="298" width="8" height="6" fill="#2a2a2a"/>
<rect x="568" y="298" width="8" height="6" fill="#131313"/>
</g>
<g><g transform="translate(37.4,293.7)"><ellipse cx="0" cy="-2.3" rx="2.0" ry="2.2" fill="#b8121c"/><ellipse cx="0.1" cy="1.6" rx="3.0" ry="2.7" fill="#b8121c"/><path d="M-1.4 -2.2 Q0 -3.4 1.4 -2.2 M-2 0.8 Q-0.6 3.6 2.1 2.4" fill="none" stroke="#dc4a58" stroke-width="0.8"/></g><g transform="translate(175.4,293.6)"><ellipse cx="0" cy="-2.3" rx="2.0" ry="2.2" fill="#b8121c"/><ellipse cx="0.1" cy="1.6" rx="3.0" ry="2.7" fill="#b8121c"/><path d="M-1.4 -2.2 Q0 -3.4 1.4 -2.2 M-2 0.8 Q-0.6 3.6 2.1 2.4" fill="none" stroke="#dc4a58" stroke-width="0.8"/></g><g transform="translate(308.5,293.8)"><ellipse cx="0" cy="-2.3" rx="2.0" ry="2.2" fill="#b8121c"/><ellipse cx="0.1" cy="1.6" rx="3.0" ry="2.7" fill="#b8121c"/><path d="M-1.4 -2.2 Q0 -3.4 1.4 -2.2 M-2 0.8 Q-0.6 3.6 2.1 2.4" fill="none" stroke="#dc4a58" stroke-width="0.8"/></g><g transform="translate(435.9,293.6)"><ellipse cx="0" cy="-2.3" rx="2.0" ry="2.2" fill="#b8121c"/><ellipse cx="0.1" cy="1.6" rx="3.0" ry="2.7" fill="#b8121c"/><path d="M-1.4 -2.2 Q0 -3.4 1.4 -2.2 M-2 0.8 Q-0.6 3.6 2.1 2.4" fill="none" stroke="#dc4a58" stroke-width="0.8"/></g><g transform="translate(566.5,293.5)"><ellipse cx="0" cy="-2.3" rx="2.0" ry="2.2" fill="#b8121c"/><ellipse cx="0.1" cy="1.6" rx="3.0" ry="2.7" fill="#b8121c"/><path d="M-1.4 -2.2 Q0 -3.4 1.4 -2.2 M-2 0.8 Q-0.6 3.6 2.1 2.4" fill="none" stroke="#dc4a58" stroke-width="0.8"/></g></g>
</svg>
<div class="tag" id="url"><span>www.zhcn-xqsports.com</span></div>
</body></html>
